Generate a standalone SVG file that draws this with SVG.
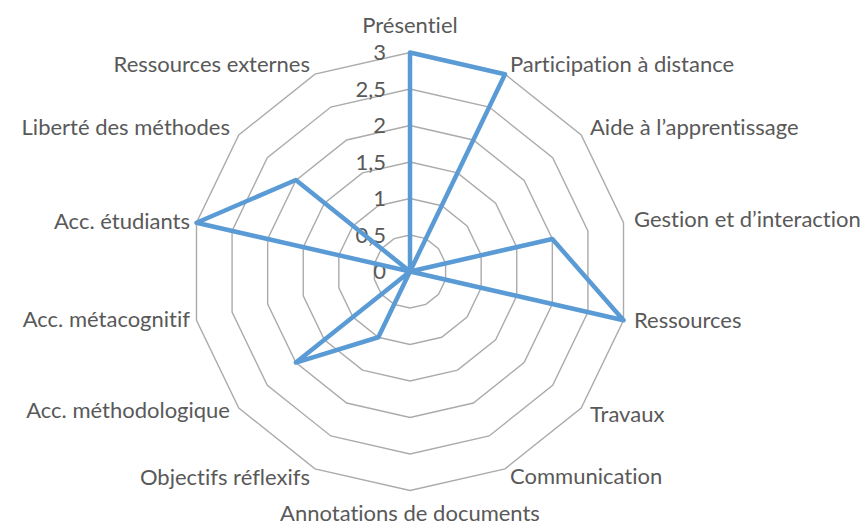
<svg xmlns="http://www.w3.org/2000/svg" xmlns:xlink="http://www.w3.org/1999/xlink" width="868" height="525" viewBox="0 0 868 525">
<style>
.ring{fill:none;stroke:#ABABAB;stroke-width:1.4;vector-effect:non-scaling-stroke}
.lbl{font-family:Lato,"Liberation Sans",sans-serif;font-size:22px;fill:#595959;font-variant-ligatures:none}
.tick{font-family:Lato,"Liberation Sans",sans-serif;font-size:22px;fill:#595959;text-anchor:end}
.data{fill:none;stroke:#5B9BD5;stroke-width:4.5;stroke-linejoin:round;stroke-linecap:round}
</style>
<defs>
<polygon id="ring" class="ring" points="0,-1 0.43388,-0.90097 0.78183,-0.62349 0.97493,-0.22252 0.97493,0.22252 0.78183,0.62349 0.43388,0.90097 0,1 -0.43388,0.90097 -0.78183,0.62349 -0.97493,0.22252 -0.97493,-0.22252 -0.78183,-0.62349 -0.43388,-0.90097"/>
</defs>
<rect width="868" height="525" fill="#FFFFFF"/>
<g id="grid">
<use xlink:href="#ring" transform="translate(410 271.5) scale(36.5)"/>
<use xlink:href="#ring" transform="translate(410 271.5) scale(73)"/>
<use xlink:href="#ring" transform="translate(410 271.5) scale(109.5)"/>
<use xlink:href="#ring" transform="translate(410 271.5) scale(146)"/>
<use xlink:href="#ring" transform="translate(410 271.5) scale(182.5)"/>
<use xlink:href="#ring" transform="translate(410 271.5) scale(219)"/>
</g>
<g id="ticks">
<text class="tick" x="386" y="60">3</text>
<text class="tick" x="386" y="96.5">2,5</text>
<text class="tick" x="386" y="133">2</text>
<text class="tick" x="386" y="169.5">1,5</text>
<text class="tick" x="386" y="206">1</text>
<text class="tick" x="386" y="242.5">0,5</text>
<text class="tick" x="386" y="279">0</text>
</g>
<g id="connectors">
<polygon class="data" points="410,52.5 505.02,74.19 410,271.5 552.34,239.01 623.51,320.23 410,271.5 410,271.5 410,271.5 378.33,337.27 295.85,362.53 410,271.5 196.49,222.77 295.85,179.97 410,271.5"/>
</g>
<g id="labels">
<text class="lbl" x="410" y="33" text-anchor="middle">Présentiel</text>
<text class="lbl" x="510" y="72">Participation à distance</text>
<text class="lbl" x="590" y="135">Aide à l’apprentissage</text>
<text class="lbl" x="634" y="227">Gestion et d’interaction</text>
<text class="lbl" x="634" y="328">Ressources</text>
<text class="lbl" x="590" y="421.5">Travaux</text>
<text class="lbl" x="510" y="484">Communication</text>
<text class="lbl" x="410" y="521" text-anchor="middle">Annotations de documents</text>
<text class="lbl" x="310" y="485" text-anchor="end">Objectifs réflexifs</text>
<text class="lbl" x="230" y="418" text-anchor="end">Acc. méthodologique</text>
<text class="lbl" x="190" y="327" text-anchor="end">Acc. métacognitif</text>
<text class="lbl" x="190" y="229" text-anchor="end">Acc. étudiants</text>
<text class="lbl" x="230" y="135" text-anchor="end">Liberté des méthodes</text>
<text class="lbl" x="310" y="72" text-anchor="end">Ressources externes</text>
</g>
</svg>
